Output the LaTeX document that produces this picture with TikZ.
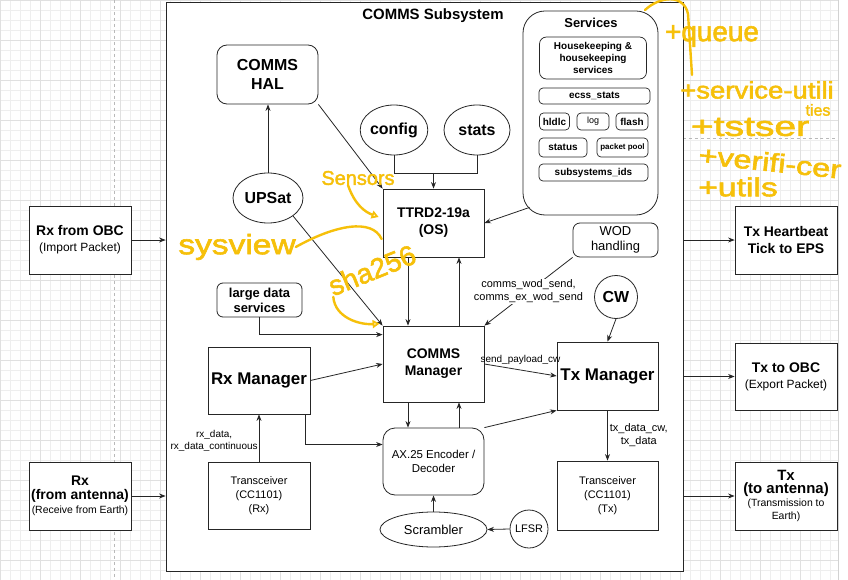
\documentclass[tikz,border=0pt]{standalone}
\usepackage{fontspec}
\setmainfont{Liberation Sans}
\newfontfamily\scribfont[FakeBold=2]{Liberation Sans}
\usetikzlibrary{positioning,arrows.meta,shapes.geometric,calc}
\definecolor{scribble}{RGB}{246,192,10}
\definecolor{gridminor}{RGB}{238,238,238}
\definecolor{gridmajor}{RGB}{224,224,224}
\newcommand{\fsz}[2]{\fontsize{#1}{#2}\selectfont}

\begin{document}
\begin{tikzpicture}[
  x=1bp, y=-1bp,
  >={Stealth[length=6.5bp, width=5bp]},
  line/.style={draw=black!85, line width=0.8bp},
  box/.style={draw=black!85, line width=0.8bp, fill=white, align=center, inner sep=1bp,
    minimum width=102bp, minimum height=68bp},
  rbox/.style={box, rounded corners=#1},
  rbox/.default=8bp,
  oval/.style={ellipse, draw=black!85, line width=0.8bp, fill=white, inner sep=0bp, align=center},
  ring/.style={circle, draw=black!85, line width=0.8bp, fill=white, inner sep=0bp},
  svc/.style={draw=black!85, line width=0.7bp, fill=white, rounded corners=4bp, inner sep=0bp,
    align=center, font=\bfseries\fsz{10}{12}},
  lbl/.style={font=\fsz{11}{13}, align=center, inner sep=1bp, fill=white},
  scrib/.style={text=scribble, inner sep=0bp},
  pen/.style={draw=scribble, line width=2.4bp, line cap=round, line join=round}
]
  \useasboundingbox (0,0) rectangle (848,580);

  % Canvas grid
  \fill[white] (0,0) rectangle (848,580);
  \foreach \gx in {0,10,...,830} \draw[gridminor, line width=0.5bp] (\gx,0) -- (\gx,580);
  \foreach \gy in {0,10,...,580} \draw[gridminor, line width=0.5bp] (0,\gy) -- (838,\gy);
  \foreach \gx in {0,40,...,800} \draw[gridmajor, line width=0.5bp] (\gx,0) -- (\gx,580);
  \foreach \gy in {0,40,...,560} \draw[gridmajor, line width=0.5bp] (0,\gy) -- (838,\gy);
  \draw[gray!35, line width=0.6bp] (838,0) -- (838,580);
  \draw[gray!55, dashed, line width=0.6bp] (114,0) -- (114,580);
  \draw[gray!55, dashed, line width=0.6bp] (683,138) -- (838,138);

  % Subsystem frame
  \node[draw=black!85, line width=0.8bp, fill=white, minimum width=517bp, minimum height=569bp,
    inner sep=0bp] (subsys) at (424.5,286.5) {};
  \node[font=\bfseries\fsz{15}{18}] (title) at (433,16) {COMMS Subsystem};

  % Services
  \node[draw=black!85, line width=0.8bp, fill=white, rounded corners=22bp,
    minimum width=135bp, minimum height=204bp] (services) at (590.5,113) {};
  \node[font=\bfseries\fsz{13}{15}] (servtitle) at (591,23) {Services};
  \node[svc, minimum width=107bp, minimum height=42bp, rounded corners=7bp] (hk) at (593,58)
    {Housekeeping \&\\housekeeping\\services};
  \node[svc, minimum width=111bp, minimum height=16bp] (ecss) at (594.5,96) {ecss\_stats};
  \node[svc, minimum width=30bp, minimum height=17bp] (hldlc) at (554.5,121.5) {hldlc};
  \node[svc, minimum width=32bp, minimum height=17bp, font=\fsz{9}{11}] (log) at (593,121.5) {log};
  \node[svc, minimum width=32bp, minimum height=17bp] (flash) at (632,121.5) {flash};
  \node[svc, minimum width=48bp, minimum height=19bp] (status) at (563,147.5) {status};
  \node[svc, minimum width=51bp, minimum height=19bp, font=\bfseries\fsz{8}{10}] (ppool) at (622.5,147.5) {packet pool};
  \node[svc, minimum width=109bp, minimum height=17bp] (sids) at (593.5,172.5) {subsystems\_ids};

  % Upper blocks
  \node[rbox=10bp, minimum width=101bp, minimum height=59bp, font=\bfseries\fsz{16}{19}] (hal) at (267.5,74.5) {COMMS\\HAL};
  \node[oval, minimum width=65bp, minimum height=50bp, font=\bfseries\fsz{16}{19}] (config) at (394,130) {config};
  \node[oval, minimum width=66bp, minimum height=50bp, font=\bfseries\fsz{16}{19}] (stats) at (477,130) {stats};
  \node[oval, minimum width=70bp, minimum height=50bp, font=\bfseries\fsz{16}{19}] (upsat) at (268,198) {UPSat};
  \node[box, minimum width=101bp, minimum height=68bp, font=\bfseries\fsz{14}{17}] (ttrd) at (433.5,223) {TTRD2-19a\\(OS)};
  \node[rbox=6bp, minimum width=85bp, minimum height=34bp, font=\bfseries\fsz{13}{15}] (lds) at (259.5,300) {large data\\services};
  \node[rbox=7bp, minimum width=85bp, minimum height=34bp, font=\fsz{13}{15}] (wod) at (615.5,240) {WOD\\handling};
  \node[ring, minimum size=43bp, font=\bfseries\fsz{16}{19}] (cw) at (616,297) {CW};

  % Managers
  \node[box, minimum width=101bp, minimum height=76bp, font=\bfseries\fsz{14}{17}] (cmgr) at (433.5,364) {COMMS\\Manager};
  \node[box, minimum width=101bp, minimum height=68bp, font=\bfseries\fsz{17}{20}] (txmgr) at (607.5,376) {Tx Manager};
  \node[box, minimum width=102bp, minimum height=67bp, font=\bfseries\fsz{17}{20}] (rxmgr) at (259,380.5) {Rx Manager};

  % Radio chain
  \node[rbox=12bp, minimum width=101bp, minimum height=67bp, font=\fsz{11.5}{14}] (ax25) at (433.5,461.5) {AX.25 Encoder /\\Decoder};
  \node[oval, minimum width=107bp, minimum height=35bp, font=\fsz{13}{15}] (scr) at (433.5,529.5) {Scrambler};
  \node[ring, minimum size=38bp, font=\fsz{11}{13}] (lfsr) at (529,529) {LFSR};
  \node[box, minimum width=102bp, minimum height=67bp, font=\fsz{11}{14}] (trxrx) at (259,495.5) {Transceiver\\(CC1101)\\(Rx)};
  \node[box, minimum width=101bp, minimum height=69bp, font=\fsz{11}{14}] (trxtx) at (607.5,495.5) {Transceiver\\(CC1101)\\(Tx)};

  % Outside the subsystem
  \node[box, font=\fsz{12}{16}] (rxobc) at (80,240) {\bfseries\fsz{14}{17}Rx from OBC\\(Import Packet)};
  \node[box, font=\fsz{10.5}{14}] (rxant) at (80,496) {\bfseries\fsz{14}{16}Rx\\\bfseries\fsz{14}{16}(from antenna)\\(Receive from Earth)};
  \node[box, font=\bfseries\fsz{14}{17}] (txhb) at (786,240) {Tx Heartbeat\\Tick to EPS};
  \node[box, minimum height=67bp, font=\fsz{12}{16}] (txobc) at (786,376.5) {\bfseries\fsz{14}{17}Tx to OBC\\(Export Packet)};
  \node[box, font=\fsz{10.5}{13}] (txant) at (786,496) {\bfseries\fsz{15}{18}Tx\\\bfseries\fsz{15}{18}(to antenna)\\(Transmission to\\Earth)};

  % Connections inside
  \coordinate (join) at (433.5,173);
  \draw[line] (config.south) |- (join);
  \draw[line] (stats.south) |- (join);
  \draw[line,->] (join) -- (ttrd.north);
  \draw[line,->] (hal.south east) -- (ttrd.north west);
  \draw[line,->] (upsat.north) -- (upsat.north |- hal.south);
  \draw[line,->] (upsat.south east) -- (cmgr.north west);
  \draw[line,->] ([xshift=7bp,yshift=8bp]services.south west) -- (ttrd.east);
  \draw[line,->] ([xshift=-25.5bp]ttrd.south) -- ([xshift=-25.5bp]cmgr.north);
  \draw[line,->] ([xshift=25.5bp]cmgr.north) -- ([xshift=25.5bp]ttrd.south);
  \draw[line,->] (lds.south) |- ([yshift=-9bp]cmgr.north west);
  \draw[line,->] (wod.south west) -- (cmgr.north east)
    node[lbl, midway] {comms\_wod\_send,\\comms\_ex\_wod\_send};
  \draw[line,->] (cw.south) -- (txmgr.north);
  \draw[line,->] (cmgr.east) -- (txmgr.west)
    node[lbl, fill=none, font=\fsz{10}{12}, midway, above=4bp] {send\_payload\_cw};
  \draw[line,->] (ax25.north east) -- (txmgr.south west);
  \draw[line,->] (rxmgr.east) -- (cmgr.west);
  \draw[line,->] ([xshift=-5bp]rxmgr.south east) |- ([yshift=17bp]ax25.west);
  \draw[line,->] ([xshift=-25.5bp]cmgr.south) -- ([xshift=-25.5bp]ax25.north);
  \draw[line,->] ([xshift=25.5bp]ax25.north) -- ([xshift=25.5bp]cmgr.south);
  \draw[line,->] (scr.north) -- (ax25.south);
  \draw[line,->] (lfsr.west) -- (scr.east);
  \draw[line,->] (trxrx.north) -- (rxmgr.south)
    node[lbl, fill=none, font=\fsz{10}{12}, midway, left=0bp, yshift=-3bp] {rx\_data,\\rx\_data\_continuous};
  \draw[line,->] (txmgr.south) -- (trxtx.north)
    node[lbl, fill=none, midway, right=1bp] {tx\_data\_cw,\\tx\_data};

  % Connections across the frame
  \draw[line,->] (rxobc.east) -- (rxobc.east -| subsys.west);
  \draw[line,->] (rxant.east) -- (rxant.east -| subsys.west);
  \draw[line,->] (subsys.east |- txhb.west) -- (txhb.west);
  \draw[line,->] (subsys.east |- txobc.west) -- (txobc.west);
  \draw[line,->] (subsys.east |- txant.west) -- (txant.west);

  % Handwritten notes
  \node[scrib, font=\scribfont\fsz{28}{30}] (queue) at (712,36) {+queue};
  \node[scrib, font=\scribfont\fsz{24}{26}] (svcutil) at (757,90) {\scalebox{1.15}[1]{+service-utili}};
  \node[scrib, font=\scribfont\fsz{16}{18}] (ties) at (818,110) {ties};
  \node[scrib, font=\scribfont\fsz{28}{30}] (tstser) at (750,127) {\scalebox{1.4}[1]{+tstser}};
  \node[scrib, font=\scribfont\fsz{26}{28}, rotate=-6] (verif) at (770,162) {\scalebox{1.25}[1]{+verifi-cer}};
  \node[scrib, font=\scribfont\fsz{26}{28}] (utils) at (738,187) {\scalebox{1.3}[1]{+utils}};
  \node[scrib, font=\scribfont\fsz{20}{22}] (sensors) at (358,178) {Sensors};
  \node[scrib, font=\scribfont\fsz{28}{30}] (sysview) at (237,247) {\scalebox{1.2}[1]{sysview}};
  \node[scrib, font=\scribfont\fsz{28}{30}, rotate=22] (sha) at (372,270) {sha256};
  \draw[pen] (645,10) .. controls (660,-4) and (684,-6) .. (688,14) -- (692,75);
  \draw[pen, -{Triangle[open, length=7bp, width=8bp]}] ([xshift=-10bp]sensors.south)
    .. controls (355,205) and (365,212) .. ([xshift=-4bp,yshift=6bp]ttrd.west);
  \draw[pen] (sysview.east) .. controls (335,225) and (372,218) .. ([xshift=-1bp,yshift=-16bp]ttrd.west);
  \draw[pen, -{Triangle[open, length=7bp, width=8bp]}] (sha.south west)
    .. controls (335,318) and (360,325) .. ([xshift=-3bp,yshift=2bp]cmgr.north west);
\end{tikzpicture}
\end{document}
